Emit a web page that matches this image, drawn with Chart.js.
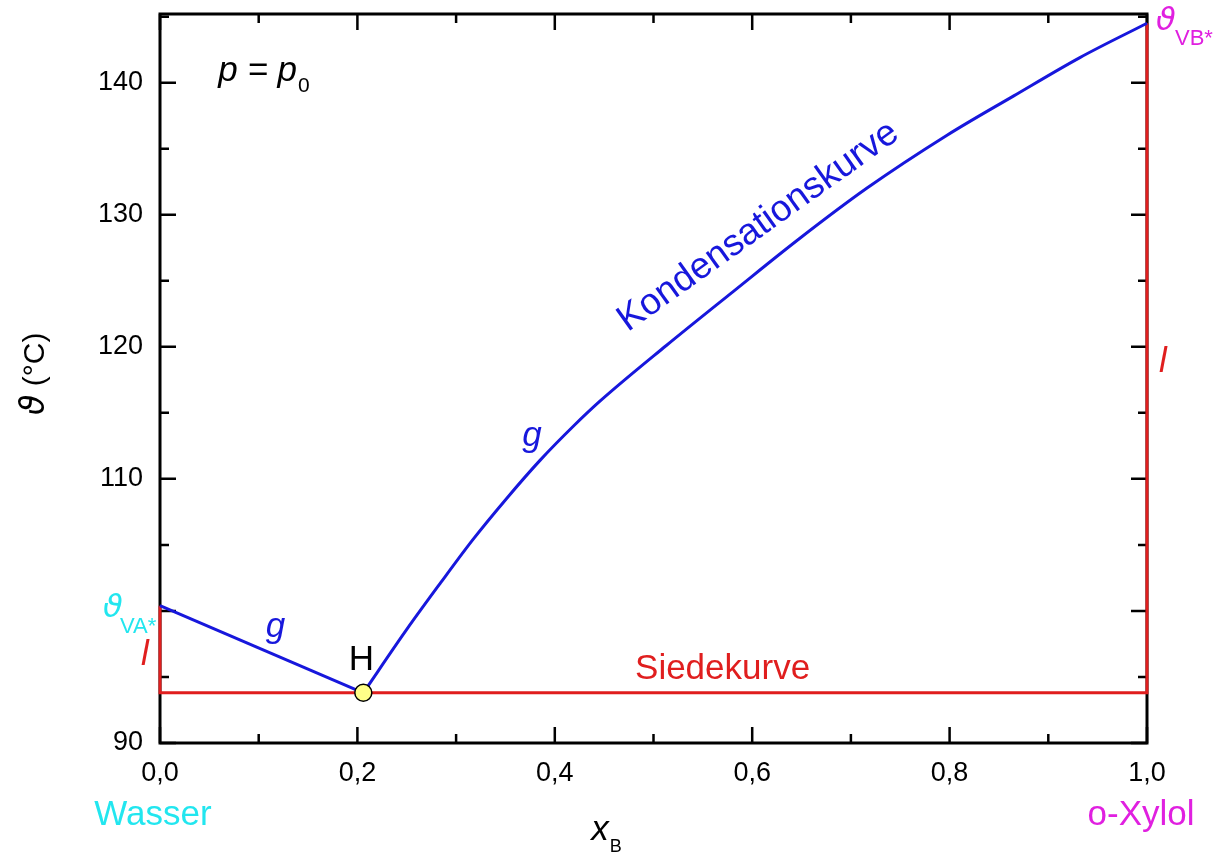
<!DOCTYPE html>
<html lang="de">
<head>
<meta charset="utf-8">
<title>Siedediagramm Wasser / o-Xylol</title>
<script src="https://cdn.jsdelivr.net/npm/chart.js@4.4.1/dist/chart.umd.min.js"></script>
<style>
  html, body { margin: 0; padding: 0; background: #fff; }
  #wrap { width: 1217px; height: 855px; }
</style>
</head>
<body>
<div id="wrap"><canvas id="chart" width="1217" height="855"></canvas></div>
<script>
// Kondensationskurve (Dampfseite, rechts vom Heteroazeotrop)
const dewX = [0.206, 0.25, 0.284, 0.317, 0.351, 0.385, 0.419, 0.446, 0.513, 0.581, 0.648, 0.716, 0.797, 0.865, 0.932, 1.0];
const dewY = [93.8, 98.6, 102.1, 105.4, 108.5, 111.4, 114.0, 115.9, 120.1, 124.2, 128.2, 132.0, 136.0, 139.0, 141.9, 144.5];

// Kondensationskurve links (Wasser-reiche Seite)
const dewLeftX = [0.0, 0.206];
const dewLeftY = [100.4, 93.8];

// Siedekurve inkl. der beiden senkrechten Äste bei x = 0 und x = 1
const boilX = [0.0, 0.0, 1.0, 1.0];
const boilY = [100.4, 93.8, 93.8, 144.5];

// Heteroazeotroper Punkt H
const azeoX = [0.206];
const azeoY = [93.8];

// Achsen
const xLabelTicks = [0.0, 0.2, 0.4, 0.6, 0.8, 1.0];
const xMinorTicks = [0.1, 0.3, 0.5, 0.7, 0.9];
const yMajorTicks = [90, 100, 110, 120, 130, 140];
const yLabelTicks = [90, 110, 120, 130, 140];
const yMinorTicks = [95, 105, 115, 125, 135, 145];

const FONT = "'Liberation Sans', Arial, 'DejaVu Sans', sans-serif";
const THETA_FONT = "'DejaVu Sans', sans-serif";
const BLUE = '#1717dc';
const RED = '#e01e1e';
const CYAN = '#22e6ef';
const MAGENTA = '#e020e0';

const pts = (xs, ys) => xs.map((x, i) => ({ x: x, y: ys[i] }));

// keine zusätzlichen Randabstände durch die Achsenbeschriftung
const noScalePadding = s => {
  s.paddingTop = 0; s.paddingBottom = 0; s.paddingLeft = 0; s.paddingRight = 0;
};

// Rahmen mit nach innen zeigenden Haupt- und Nebenstrichen
const framePlugin = {
  id: 'frame',
  beforeDatasetsDraw(chart) {
    const { ctx, chartArea: a, scales: { x, y } } = chart;
    ctx.save();
    ctx.strokeStyle = '#000';
    ctx.lineWidth = 2.5;
    const tickX = (vals, len) => {
      vals.forEach(v => {
        const px = x.getPixelForValue(v);
        ctx.beginPath();
        ctx.moveTo(px, a.bottom); ctx.lineTo(px, a.bottom - len);
        ctx.moveTo(px, a.top); ctx.lineTo(px, a.top + len);
        ctx.stroke();
      });
    };
    const tickY = (vals, len) => {
      vals.forEach(v => {
        const py = y.getPixelForValue(v);
        ctx.beginPath();
        ctx.moveTo(a.left, py); ctx.lineTo(a.left + len, py);
        ctx.moveTo(a.right, py); ctx.lineTo(a.right - len, py);
        ctx.stroke();
      });
    };
    tickX(xLabelTicks, 16);
    tickX(xMinorTicks, 9);
    tickY(yMajorTicks, 16);
    tickY(yMinorTicks, 9);
    ctx.lineWidth = 3;
    ctx.strokeRect(a.left, a.top, a.right - a.left, a.bottom - a.top);
    ctx.restore();
  }
};

// Beschriftungen im und am Diagramm
const labelPlugin = {
  id: 'labels',
  afterDraw(chart) {
    const { ctx, scales: { x, y } } = chart;
    const px = v => x.getPixelForValue(v);
    const py = v => y.getPixelForValue(v);
    const text = (s, cx, cy, size, color, opts = {}) => {
      ctx.font = (opts.italic ? 'italic ' : '') + size + 'px ' + (opts.family || FONT);
      ctx.fillStyle = color;
      ctx.textAlign = opts.align || 'center';
      ctx.textBaseline = 'alphabetic';
      ctx.fillText(s, cx, cy);
      return ctx.measureText(s).width;
    };
    const theta = (cx, cy, size, color) =>
      text('\u03D1', cx, cy, size, color, { family: THETA_FONT, italic: true, align: 'left' });
    ctx.save();

    // p = p0
    let w = text('p = p', px(0.059), py(140.1), 35, '#000', { italic: true, align: 'left' });
    text('0', px(0.059) + w + 1, py(140.1) + 11, 21, '#000', { align: 'left' });

    // Achsentitel
    w = text('x', px(0.437), 840, 35, '#000', { italic: true, align: 'left' });
    text('B', px(0.437) + w + 1, 852, 18, '#000', { align: 'left' });

    ctx.save();
    ctx.translate(44, 368);
    ctx.rotate(-Math.PI / 2);
    w = theta(-47, 0, 33, '#000');
    text(' (°C)', -47 + w, 0, 30, '#000', { align: 'left' });
    ctx.restore();

    // Komponenten
    text('Wasser', px(0) - 7, py(90) + 82, 35, CYAN);
    text('o-Xylol', px(1) - 6, py(90) + 82, 35, MAGENTA);

    // Siedetemperaturen der Reinstoffe
    theta(px(0) - 57, py(100.4) + 11, 32, CYAN);
    text('VA*', px(0) - 40, py(100.4) + 27, 22, CYAN, { align: 'left' });
    theta(px(1) + 9, py(144.5) + 7, 32, MAGENTA);
    text('VB*', px(1) + 28, py(144.5) + 22, 22, MAGENTA, { align: 'left' });

    // Kurven- und Phasenbezeichnungen
    text('Siedekurve', px(0.57), py(93.8) - 14, 35, RED);
    text('H', px(0.204), py(93.8) - 23, 35, '#000');
    text('g', px(0.117), py(98.0), 35, BLUE, { italic: true });
    text('g', px(0.377), py(112.5), 35, BLUE, { italic: true });
    text('l', px(0) - 15, py(95.9), 35, RED, { italic: true });
    text('l', px(1) + 16, py(118.1), 35, RED, { italic: true });

    ctx.save();
    ctx.translate(px(0.474), py(121.1));
    ctx.rotate(-35.5 * Math.PI / 180);
    text('Kondensationskurve', 0, 0, 37, BLUE, { align: 'left' });
    ctx.restore();

    ctx.restore();
  }
};

new Chart(document.getElementById('chart'), {
  type: 'scatter',
  data: {
    datasets: [
      {
        data: pts(azeoX, azeoY),
        pointRadius: 8.5,
        pointBackgroundColor: '#ffff88',
        pointBorderColor: '#000',
        pointBorderWidth: 1.5,
        showLine: false,
        clip: false
      },
      {
        data: pts(dewX, dewY),
        showLine: true,
        borderColor: BLUE,
        borderWidth: 3,
        pointRadius: 0,
        cubicInterpolationMode: 'monotone',
        clip: false
      },
      {
        data: pts(dewLeftX, dewLeftY),
        showLine: true,
        borderColor: BLUE,
        borderWidth: 3,
        pointRadius: 0,
        clip: false
      },
      {
        data: pts(boilX, boilY),
        showLine: true,
        borderColor: RED,
        borderWidth: 3,
        pointRadius: 0,
        clip: false
      }
    ]
  },
  options: {
    responsive: false,
    devicePixelRatio: 1,
    animation: false,
    events: [],
    layout: { padding: { top: 14, right: 70, left: 0, bottom: 0 } },
    plugins: { legend: { display: false }, tooltip: { enabled: false } },
    scales: {
      x: {
        type: 'linear',
        min: 0,
        max: 1,
        afterBuildTicks: s => { s.ticks = xLabelTicks.map(v => ({ value: v })); },
        afterFit: s => { s.height = 112; noScalePadding(s); },
        ticks: {
          callback: v => v.toFixed(1).replace('.', ','),
          font: { family: FONT, size: 27 },
          color: '#000',
          padding: 14,
          maxRotation: 0,
          autoSkip: false
        },
        grid: { display: false, drawTicks: false },
        border: { display: false }
      },
      y: {
        type: 'linear',
        min: 90,
        max: 145.2,
        afterBuildTicks: s => { s.ticks = yLabelTicks.map(v => ({ value: v })); },
        afterFit: s => { s.width = 160; noScalePadding(s); },
        ticks: {
          font: { family: FONT, size: 27 },
          color: '#000',
          padding: 17,
          autoSkip: false
        },
        grid: { display: false, drawTicks: false },
        border: { display: false }
      }
    }
  },
  plugins: [framePlugin, labelPlugin]
});
</script>
</body>
</html>
